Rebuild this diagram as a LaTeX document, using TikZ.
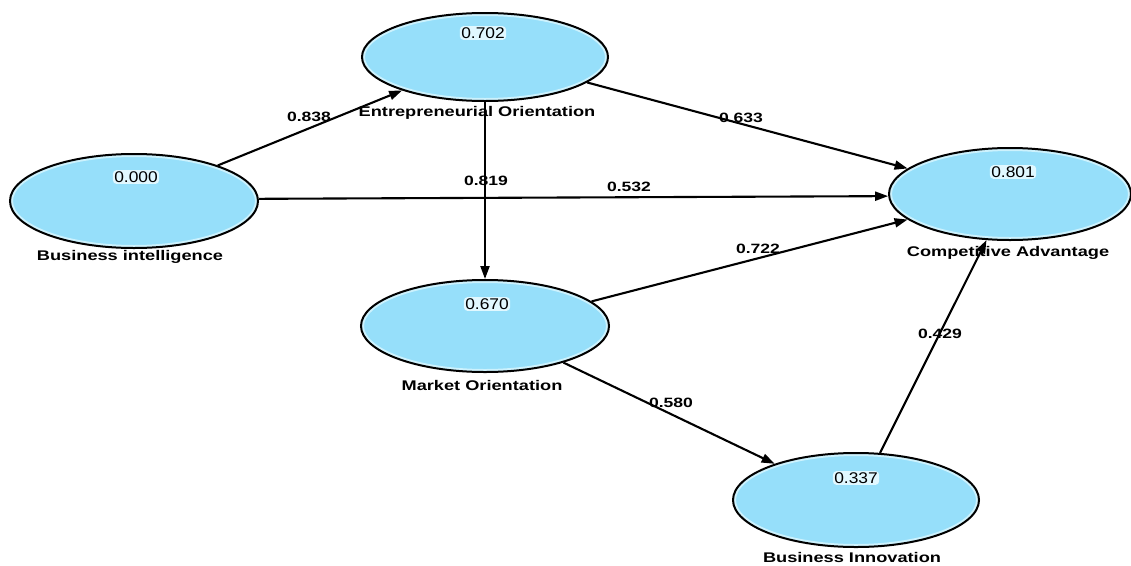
\documentclass[tikz,border=0pt]{standalone}
\usepackage{fontspec}
\setmainfont{Liberation Sans}[FakeStretch=1.3]
\newfontfamily\valfont{Liberation Sans}[FakeStretch=1.12]
\usetikzlibrary{shapes.geometric,arrows.meta,calc}
\definecolor{lvfill}{RGB}{150,223,250}
\definecolor{rimc}{RGB}{205,242,253}
\definecolor{halo}{RGB}{225,248,255}
\begin{document}
\begin{tikzpicture}[x=1pt,y=-1pt,
  lv/.style={ellipse, draw=black, line width=2pt, fill=lvfill, inner sep=0pt,
    path picture={\draw[rimc, line width=6pt]
      let \p1=(path picture bounding box.north east), \p2=(path picture bounding box.south west) in
      (path picture bounding box.center) ellipse [x radius={(\x1-\x2)/2}, y radius={(\y1-\y2)/2}];}},
  val/.style={font=\valfont\fontsize{15.5}{16}\selectfont, fill=halo, rounded corners=4pt, inner sep=1.5pt},
  lab/.style={font=\bfseries\fontsize{14}{16}\selectfont, inner sep=0pt},
  pl/.style={font=\bfseries\fontsize{13.5}{15}\selectfont, inner sep=0pt},
  arr/.style={-{Triangle[length=13pt,width=9pt]}, line width=2.1pt}]
\useasboundingbox (0,0) rectangle (1131,565);
\fill[white] (0,0) rectangle (1131,565);
% latent variables
\node[lv, minimum width=248pt, minimum height=94pt] (bi) at (134,201) {};
\node[lv, minimum width=246pt, minimum height=88pt] (eo) at (485,57) {};
\node[lv, minimum width=242pt, minimum height=92pt] (ca) at (1010,194) {};
\node[lv, minimum width=248pt, minimum height=92pt] (mo) at (485,326) {};
\node[lv, minimum width=246pt, minimum height=94pt] (bn) at (856,500) {};
% paths
\draw[arr] (bi.23) -- (eo.202);
\draw[arr] (eo.-14) -- (ca.166);
\draw[arr] (bi.1) -- (ca.181);
\draw[arr] (eo.south) -- (mo.north);
\draw[arr] (mo.13) -- (ca.194);
\draw[arr] (mo.-25) -- (bn.156);
\draw[arr] (bn.63) -- (ca.243);
% R2 values
\node[val] (vbi) at (136,177) {0.000};
\node[val] (veo) at (483,33) {0.702};
\node[val] (vca) at (1013,172) {0.801};
\node[val] (vmo) at (487,304) {0.670};
\node[val] (vbn) at (856,478) {0.337};
% names
\node[lab] (nbi) at (130,257) {Business intelligence};
\node[lab] (neo) at (477,113) {Entrepreneurial Orientation};
\node[lab] (nca) at (1008,253) {Competitive Advantage};
\node[lab] (nmo) at (482,385) {Market Orientation};
\node[lab] (nbn) at (852,557) {Business Innovation};
% path coefficients
\node[pl] (p1) at (309,117) {0.838};
\node[pl] (p2) at (741,118) {0.633};
\node[pl] (p3) at (629,187) {0.532};
\node[pl] (p4) at (486,181) {0.819};
\node[pl] (p5) at (758,249) {0.722};
\node[pl] (p6) at (671,403) {0.580};
\node[pl] (p7) at (940,334) {0.429};
\end{tikzpicture}
\end{document}
